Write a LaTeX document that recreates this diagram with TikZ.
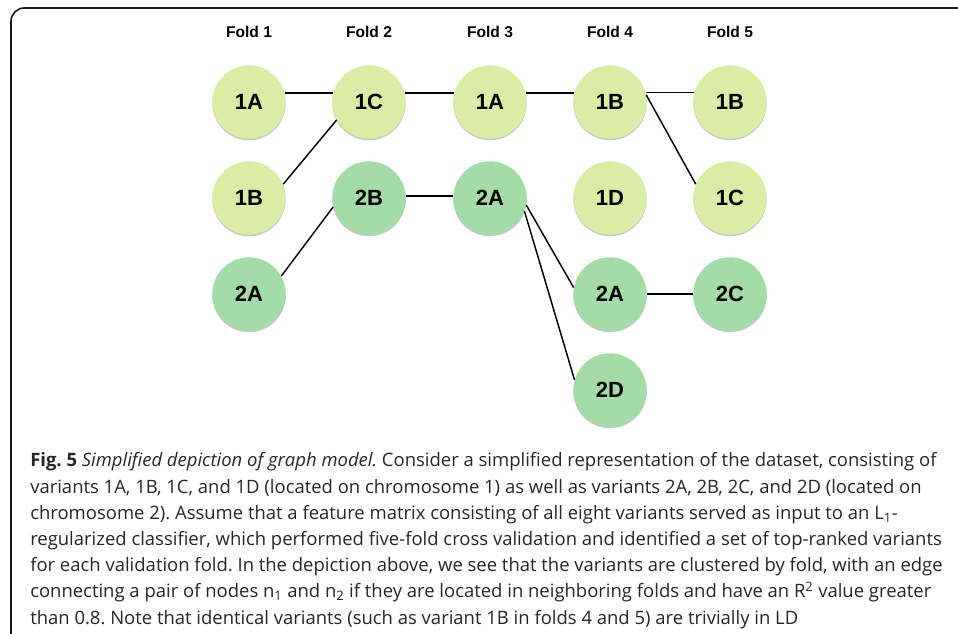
\documentclass[tikz,border=0pt]{standalone}
\usepackage{fontspec}
\setmainfont{Open Sans}
\newfontfamily\helv{Liberation Sans}
\usetikzlibrary{shadows}
\definecolor{lg}{RGB}{217,238,164}
\definecolor{dg}{RGB}{163,220,166}
\frenchspacing
\begin{document}
\begin{tikzpicture}[x=0.75pt,y=-0.75pt,
  vnode/.style={circle,minimum size=55pt,inner sep=0pt,
    font=\helv\bfseries\fontsize{16.5}{18}\selectfont,
    drop shadow={shadow xshift=0pt,shadow yshift=-1.2pt,opacity=0.22,fill=black}},
  light/.style={vnode,fill=lg},
  dark/.style={vnode,fill=dg},
  fold/.style={font=\helv\bfseries\fontsize{11.7}{14}\selectfont,inner sep=0pt},
  edge/.style={line width=1.1pt,black},
  capline/.style={anchor=base west,inner sep=0pt,font=\fontsize{13.85}{17}\selectfont,text=black!85}]
\useasboundingbox (0,0) rectangle (958,634);
\begin{scope}
\clip (0,0) rectangle (958,634);
\draw[line width=1.2pt,black!90,rounded corners=10] (11,8) rectangle (990,660);
\end{scope}
% fold labels
\node[fold] (f1) at (249,32) {Fold 1};
\node[fold] (f2) at (369,32) {Fold 2};
\node[fold] (f3) at (490,32) {Fold 3};
\node[fold] (f4) at (610,32) {Fold 4};
\node[fold] (f5) at (730,32) {Fold 5};
% nodes
\node[light] (a1) at (249,102) {1A};
\node[light] (b1) at (249,198) {1B};
\node[dark]  (d1) at (249,294) {2A};
\node[light] (c2) at (369,102) {1C};
\node[dark]  (e2) at (369,198) {2B};
\node[light] (a3) at (490,102) {1A};
\node[dark]  (d3) at (490,198) {2A};
\node[light] (b4) at (610,102) {1B};
\node[light] (g4) at (610,198) {1D};
\node[dark]  (d4) at (610,294) {2A};
\node[dark]  (h4) at (610,390) {2D};
\node[light] (b5) at (730,102) {1B};
\node[light] (c5) at (730,198) {1C};
\node[dark]  (k5) at (730,294) {2C};
% edges
\draw[edge] (a1.14) -- (c2.166);
\draw[edge] (c2.14) -- (a3.166);
\draw[edge] (a3.14) -- (b4.166);
\draw[edge] (b4.15) -- (b5.165);
\draw[edge] (b1.22) -- (c2.209);
\draw[edge] (d1.29) -- (e2.194);
\draw[edge] (e2.3) -- (d3.177);
\draw[edge] (d3.-11) -- (d4.170);
\draw[edge] (d3.-21) -- (h4.164);
\draw[edge] (b4.11) -- (c5.158);
\draw[edge] (d4.east) -- (k5.west);
% caption
\node[capline] (l1) at (30,467) {\textbf{Fig. 5} \textit{Simplified depiction of graph model.} Consider a simplified representation of the dataset, consisting of};
\node[capline] (l2) at (30,493.2) {variants 1A, 1B, 1C, and 1D (located on chromosome 1) as well as variants 2A, 2B, 2C, and 2D (located on};
\node[capline] (l3) at (30,519.4) {chromosome 2). Assume that a feature matrix consisting of all eight variants served as input to an L\textsubscript{1}-};
\node[capline] (l4) at (30,545.6) {regularized classifier, which performed five-fold cross validation and identified a set of top-ranked variants};
\node[capline] (l5) at (30,571.8) {for each validation fold. In the depiction above, we see that the variants are clustered by fold, with an edge};
\node[capline] (l6) at (30,598) {connecting a pair of nodes n\textsubscript{1} and n\textsubscript{2} if they are located in neighboring folds and have an R\textsuperscript{2} value greater};
\node[capline] (l7) at (30,624.2) {than 0.8. Note that identical variants (such as variant 1B in folds 4 and 5) are trivially in LD};
\end{tikzpicture}
\end{document}
